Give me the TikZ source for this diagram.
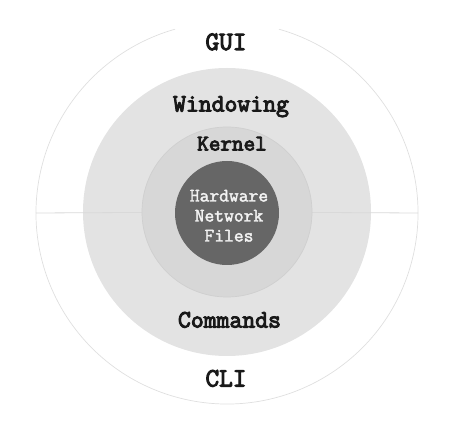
\documentclass[tikz,border=0pt]{standalone}
\usepackage{fontspec}
\newfontfamily\courier{Latin Modern Mono}[FakeBold=4]
\newfontfamily\courierlight{Latin Modern Mono}[FakeBold=2.2]

\begin{document}
\begin{tikzpicture}[x=1pt,y=-1pt,
  ring/.style={circle,inner sep=0pt,outer sep=0pt},
  lbl/.style={anchor=base,inner sep=0pt,text=black!90}]
  \useasboundingbox (0,0) rectangle (460,435);

  % rings, from the outside in
  \node[ring,minimum size=382pt] (shell) at (227,213) {};
  \draw[gray!25,line width=.7pt] (227,213) ++(285.8:191) arc[start angle=285.8,end angle=614.2,radius=191];
  \node[ring,fill=gray!22,minimum size=288pt] (windowing) at (227,212) {};
  \draw[gray!30,line width=.8pt] (shell.west) -- (227,212);
  \draw[gray!30,line width=.8pt] (shell.east) -- (227,212);
  \node[ring,fill=gray!31,draw=gray!38,line width=.7pt,minimum size=170pt] (kernel) at (227,212) {};
  \node[ring,fill=black!60,minimum size=104pt] (core) at (227,213) {};

  % labels
  \node[lbl,font=\courier\fontsize{26.5}{26}\selectfont] (gui) at (226,50) {GUI};
  \node[lbl,font=\courier\fontsize{25}{26}\selectfont] (win) at (231,111.5) {Windowing};
  \node[lbl,font=\courier\fontsize{22.5}{24}\selectfont] (ker) at (232,150.5) {Kernel};
  \node[lbl,text=white!95!black,font=\courierlight\fontsize{19}{20}\selectfont] (hw) at (229,201.5) {Hardware};
  \node[lbl,text=white!95!black,font=\courierlight\fontsize{19}{20}\selectfont] (net) at (229,221.5) {Network};
  \node[lbl,text=white!95!black,font=\courierlight\fontsize{19}{20}\selectfont] (files) at (229,241.5) {Files};
  \node[lbl,font=\courier\fontsize{25}{26}\selectfont] (cmd) at (229.5,327.5) {Commands};
  \node[lbl,font=\courier\fontsize{26.5}{26}\selectfont] (cli) at (226,386.5) {CLI};
\end{tikzpicture}
\end{document}
